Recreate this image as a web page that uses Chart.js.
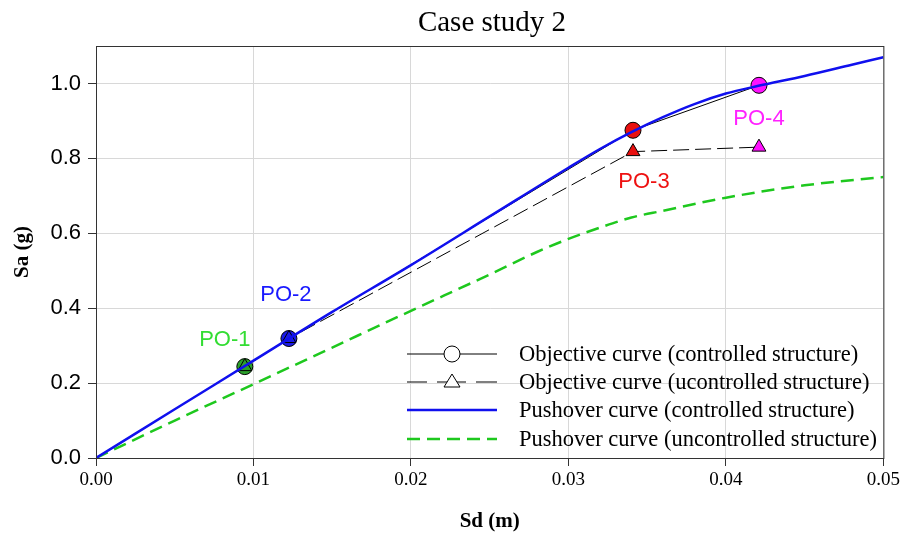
<!DOCTYPE html>
<html>
<head>
<meta charset="utf-8">
<script src="https://cdn.jsdelivr.net/npm/chart.js@4.4.0/dist/chart.umd.min.js"></script>
<style>
  body { margin: 0; background: #fff; }
  #wrap { width: 903px; height: 536px; }
</style>
</head>
<body>
<div id="wrap"><canvas id="chart" width="903" height="536"></canvas></div>
<script>
// Performance objective points (Sd in m, Sa in g)
const poNames = ['PO-1', 'PO-2', 'PO-3', 'PO-4'];
const poColors = ['#2ca02c', '#1a1ae6', '#e81010', '#ff10ff'];
const poTextColors = ['#33dd33', '#1a1aff', '#ee1111', '#ff22ff'];
const poSd = [0.00945, 0.01225, 0.0341, 0.0421];
const poSaControlled = [0.244, 0.319, 0.875, 0.995];
const poSaUncontrolled = [0.244, 0.319, 0.818, 0.830];

// Pushover curves
const pushSdControlled = [0, 0.005, 0.01, 0.015, 0.02, 0.025, 0.03, 0.032, 0.034, 0.036, 0.038, 0.04, 0.042, 0.045, 0.048, 0.05];
const pushSaControlled = [0, 0.13, 0.26, 0.39, 0.515, 0.645, 0.775, 0.825, 0.87, 0.91, 0.945, 0.973, 0.993, 1.02, 1.05, 1.07];
const pushSdUncontrolled = [0, 0.005, 0.01, 0.015, 0.02, 0.025, 0.028, 0.03, 0.032, 0.034, 0.036, 0.04, 0.045, 0.05];
const pushSaUncontrolled = [0, 0.1, 0.197, 0.295, 0.393, 0.49, 0.55, 0.585, 0.615, 0.642, 0.66, 0.695, 0.728, 0.75];

const legendLabels = [
  'Objective curve (controlled structure)',
  'Objective curve (ucontrolled structure)',
  'Pushover curve (controlled structure)',
  'Pushover curve (uncontrolled structure)'
];

const toXY = (xs, ys) => xs.map((x, i) => ({ x: x, y: ys[i] }));

// Title, frame, PO labels and the legend
const decorPlugin = {
  id: 'decor',
  afterDraw(chart) {
    const ctx = chart.ctx;
    const area = chart.chartArea;
    const xs = chart.scales.x, ys = chart.scales.y;
    ctx.save();

    // frame
    ctx.strokeStyle = '#333';
    ctx.lineWidth = 1;
    ctx.strokeRect(area.left + 0.5, area.top + 0.5, area.right - area.left, area.bottom - area.top);

    // title
    ctx.fillStyle = '#000';
    ctx.font = '29px "Liberation Serif", serif';
    ctx.textAlign = 'center';
    ctx.textBaseline = 'middle';
    ctx.fillText('Case study 2', 492, 23);

    // PO labels
    const offsets = [[-20, -27], [-3, -44], [11, 52], [0, 34]];
    ctx.font = '22px "Liberation Sans", Arial, sans-serif';
    poNames.forEach((name, i) => {
      const px = xs.getPixelForValue(poSd[i]);
      const py = ys.getPixelForValue(poSaControlled[i]);
      ctx.fillStyle = poTextColors[i];
      ctx.fillText(name, px + offsets[i][0], py + offsets[i][1]);
    });

    // legend
    const lx0 = 407, lx1 = 497, tx = 519;
    const rows = [354, 382, 410, 439];
    ctx.font = '22.5px "Liberation Serif", serif';
    ctx.textAlign = 'left';
    rows.forEach((ry, i) => {
      ctx.beginPath();
      if (i === 0) {
        ctx.strokeStyle = '#000'; ctx.lineWidth = 1; ctx.setLineDash([]);
        ctx.moveTo(lx0, ry); ctx.lineTo(lx1, ry); ctx.stroke();
        ctx.beginPath(); ctx.arc(452, ry, 8, 0, Math.PI * 2);
        ctx.fillStyle = '#fff'; ctx.fill(); ctx.stroke();
      } else if (i === 1) {
        ctx.strokeStyle = '#000'; ctx.lineWidth = 1; ctx.setLineDash([]);
        ctx.moveTo(lx0, ry); ctx.lineTo(427, ry);
        ctx.moveTo(437, ry); ctx.lineTo(466, ry);
        ctx.moveTo(476, ry); ctx.lineTo(lx1, ry); ctx.stroke();
        ctx.beginPath();
        ctx.moveTo(452, ry - 8); ctx.lineTo(460, ry + 5); ctx.lineTo(444, ry + 5); ctx.closePath();
        ctx.fillStyle = '#fff'; ctx.fill(); ctx.stroke();
      } else if (i === 2) {
        ctx.strokeStyle = '#1010ee'; ctx.lineWidth = 2.5; ctx.setLineDash([]);
        ctx.moveTo(lx0, ry); ctx.lineTo(lx1, ry); ctx.stroke();
      } else {
        ctx.strokeStyle = '#1ec81e'; ctx.lineWidth = 2.5; ctx.setLineDash([13, 7]);
        ctx.moveTo(lx0, ry); ctx.lineTo(lx1, ry); ctx.stroke();
        ctx.setLineDash([]);
      }
      ctx.fillStyle = '#000';
      ctx.textBaseline = 'middle';
      ctx.fillText(legendLabels[i], tx, ry + 1);
    });

    ctx.restore();
  }
};

new Chart(document.getElementById('chart'), {
  type: 'scatter',
  data: {
    datasets: [
      {
        label: legendLabels[2],
        data: toXY(pushSdControlled, pushSaControlled),
        showLine: true,
        borderColor: '#1010ee',
        borderWidth: 2.5,
        pointRadius: 0,
        cubicInterpolationMode: 'monotone'
      },
      {
        label: legendLabels[3],
        data: toXY(pushSdUncontrolled, pushSaUncontrolled),
        showLine: true,
        borderColor: '#1ec81e',
        borderWidth: 2.5,
        borderDash: [13, 7],
        pointRadius: 0,
        cubicInterpolationMode: 'monotone'
      },
      {
        label: legendLabels[1],
        data: toXY(poSd, poSaUncontrolled),
        showLine: true,
        borderColor: '#000',
        borderWidth: 1,
        borderDash: [16, 6],
        pointStyle: 'triangle',
        pointRadius: 8,
        pointBackgroundColor: poColors,
        pointBorderColor: '#000',
        pointBorderWidth: 1
      },
      {
        label: legendLabels[0],
        data: toXY(poSd, poSaControlled),
        showLine: true,
        borderColor: '#000',
        borderWidth: 1,
        pointStyle: 'circle',
        pointRadius: 8,
        pointBackgroundColor: poColors,
        pointBorderColor: '#000',
        pointBorderWidth: 1
      }
    ]
  },
  options: {
    responsive: false,
    animation: false,
    layout: { padding: { top: 46, right: 19, left: 0, bottom: 0 } },
    plugins: {
      legend: { display: false },
      tooltip: { enabled: false },
      title: { display: false }
    },
    scales: {
      x: {
        type: 'linear',
        min: 0,
        max: 0.05,
        ticks: {
          stepSize: 0.01,
          padding: 3,
          color: '#000',
          font: { family: '"Liberation Serif", serif', size: 19 },
          callback: v => v.toFixed(2)
        },
        grid: { color: '#d8d8d8', tickLength: 8, tickColor: '#333', drawOnChartArea: true },
        border: { color: '#000', width: 1 },
        title: {
          display: true,
          text: 'Sd (m)',
          color: '#000',
          font: { family: '"Liberation Serif", serif', size: 21, weight: 'bold' },
          padding: { top: 0, bottom: 2 }
        },
        afterFit: s => { s.height = 78; }
      },
      y: {
        type: 'linear',
        min: 0,
        max: 1.1,
        afterBuildTicks: s => {
          s.ticks = s.ticks.filter(t => Math.abs(t.value * 5 - Math.round(t.value * 5)) < 1e-6);
        },
        ticks: {
          stepSize: 0.2,
          padding: 7,
          color: '#000',
          font: { family: '"Liberation Sans", Arial, sans-serif', size: 22 },
          callback: v => v.toFixed(1)
        },
        grid: { color: '#d8d8d8', tickLength: 8, tickColor: '#333' },
        border: { color: '#333', width: 1 },
        title: {
          display: true,
          text: 'Sa (g)',
          color: '#000',
          font: { family: '"Liberation Serif", serif', size: 21, weight: 'bold' },
          padding: { top: 10, bottom: 0 }
        },
        afterFit: s => { s.width = 96; }
      }
    }
  },
  plugins: [decorPlugin]
});
</script>
</body>
</html>
